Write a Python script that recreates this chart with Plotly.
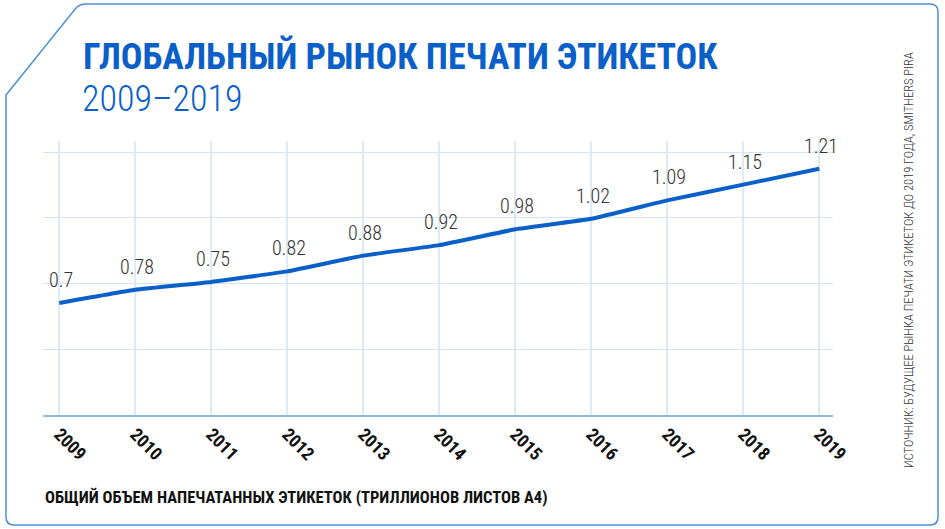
import plotly.graph_objects as go

# ---- data ----
years = [2009, 2010, 2011, 2012, 2013, 2014, 2015, 2016, 2017, 2018, 2019]
volume = [0.70, 0.75, 0.78, 0.82, 0.88, 0.92, 0.98, 1.02, 1.09, 1.15, 1.21]
value_labels = ["0.7", "0.78", "0.75", "0.82", "0.88", "0.92", "0.98", "1.02", "1.09", "1.15", "1.21"]
tick_labels = [str(y) for y in years]

title_text = "ГЛОБАЛЬНЫЙ РЫНОК ПЕЧАТИ ЭТИКЕТОК"
subtitle_text = "2009–2019"
axis_note = "ОБЩИЙ ОБЪЕМ НАПЕЧАТАННЫХ ЭТИКЕТОК (ТРИЛЛИОНОВ ЛИСТОВ А4)"
source_text = "ИСТОЧНИК: БУДУЩЕЕ РЫНКА ПЕЧАТИ ЭТИКЕТОК ДО 2019 ГОДА, SMITHERS PIRA"

# ---- layout geometry (pixels) ----
W, H = 945, 529
L, R, T, B = 43, 833, 141, 415


def px(x):
    return (x - L) / (R - L)


def py(y):
    return (B - y) / (B - T)


COND = "Roboto Condensed, Liberation Sans Narrow, DejaVu Sans Condensed, Roboto, sans-serif"
BLUE = "#0a60c8"

fig = go.Figure()
fig.add_trace(go.Scatter(
    x=years, y=volume, mode="lines",
    line=dict(color=BLUE, width=4, shape="spline", smoothing=0.3),
    hoverinfo="skip", showlegend=False,
))

annotations = []
for yr, v, lab in zip(years, volume, value_labels):
    annotations.append(dict(
        x=yr, y=v, xref="x", yref="y", text=lab, showarrow=False,
        yshift=23, xshift=2, xanchor="center", yanchor="middle",
        font=dict(family=COND, size=20, color="#333333", weight=300),
    ))

annotations += [
    dict(x=px(81), y=py(57), xref="paper", yref="paper", text=title_text,
         showarrow=False, xanchor="left", yanchor="middle",
         font=dict(family=COND, size=36, color=BLUE, weight=700)),
    dict(x=px(80), y=py(99), xref="paper", yref="paper", text=subtitle_text,
         showarrow=False, xanchor="left", yanchor="middle",
         font=dict(family=COND, size=36, color=BLUE, weight=300)),
    dict(x=px(43), y=py(497), xref="paper", yref="paper", text=axis_note,
         showarrow=False, xanchor="left", yanchor="middle",
         font=dict(family=COND, size=16.5, color="#111111", weight=700)),
    dict(x=px(908), y=py(260), xref="paper", yref="paper", text=source_text,
         showarrow=False, xanchor="center", yanchor="middle", textangle=-90,
         font=dict(family=COND, size=12.5, color="#333333", weight=300)),
]

# frame with cut top-left corner
r = 8
frame_path = (
    f"M {px(6)},{py(95)} L {px(76)},{py(8)} Q {px(80)},{py(4)} {px(86)},{py(4)} "
    f"L {px(938 - r)},{py(4)} Q {px(938)},{py(4)} {px(938)},{py(4 + r)} "
    f"L {px(938)},{py(525 - r)} Q {px(938)},{py(525)} {px(938 - r)},{py(525)} "
    f"L {px(6 + r)},{py(525)} Q {px(6)},{py(525)} {px(6)},{py(525 - r)} Z"
)
shapes = [dict(type="path", xref="paper", yref="paper", path=frame_path,
               line=dict(color="#4d8fd6", width=1.5), layer="below")]

fig.update_layout(
    width=W, height=H,
    margin=dict(l=L, r=W - R, t=T, b=H - B, pad=0),
    paper_bgcolor="white", plot_bgcolor="white",
    annotations=annotations, shapes=shapes,
    xaxis=dict(
        range=[2009 - 16.3 / 76, 2019 + 13.7 / 76],
        tickvals=years, ticktext=tick_labels, tickangle=45,
        tickfont=dict(family=COND, size=18, color="#111111", weight=700),
        showgrid=True, gridcolor="#dfeaf7", gridwidth=1.5,
        showline=True, linecolor="#8dbbe6", linewidth=1.5,
        zeroline=False, ticks="", fixedrange=True,
    ),
    yaxis=dict(
        range=[0.274, 0.274 + (B - T) / 263],
        tick0=0.274, dtick=0.25, showticklabels=False,
        showgrid=True, gridcolor="#d3e4f5", gridwidth=1,
        zeroline=False, showline=False, ticks="", fixedrange=True,
    ),
)

fig.write_html("out.html", config={"displayModeBar": False},
               post_script="document.body.style.margin='0';")
